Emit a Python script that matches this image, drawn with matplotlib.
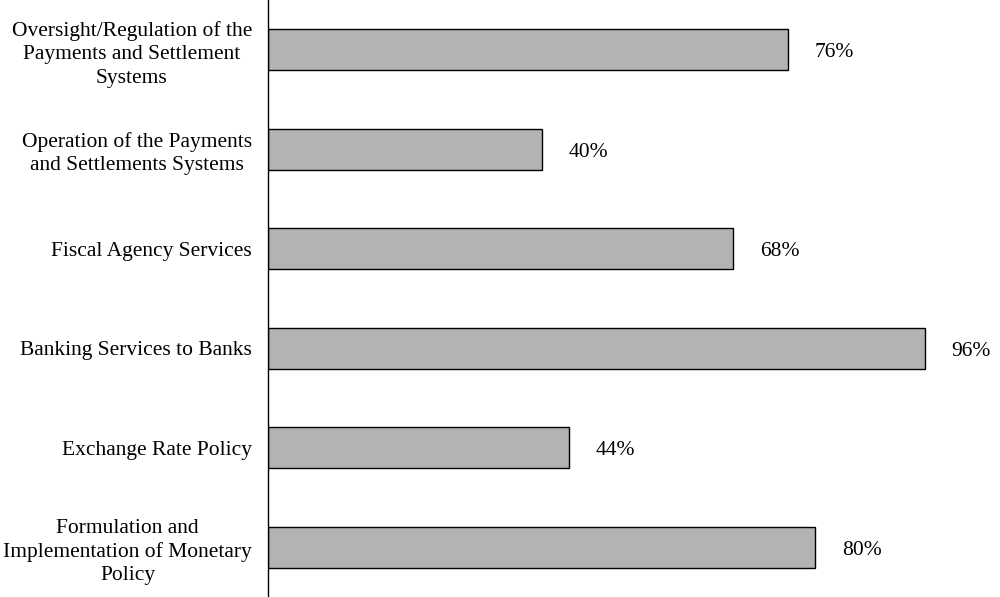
import matplotlib.pyplot as plt

# Data (top to bottom as in the chart)
categories = [
    "Oversight/Regulation of the\nPayments and Settlement\nSystems",
    "Operation of the Payments\nand Settlements Systems",
    "Fiscal Agency Services",
    "Banking Services to Banks",
    "Exchange Rate Policy",
    "Formulation and\nImplementation of Monetary\nPolicy",
]
values = [76, 40, 68, 96, 44, 80]

plt.rcParams['font.family'] = ['Liberation Serif', 'DejaVu Serif']

fig = plt.figure(figsize=(10, 5.97), dpi=100)
ax = fig.add_axes([0.268, 0.0, 0.732, 1.0])

pos = list(range(len(categories)))
ax.barh(pos, values, height=0.41, color='#b3b3b3', edgecolor='black', linewidth=1)

for p, v in zip(pos, values):
    ax.text(v + 3.9, p + 0.03, f"{v}%", va='center', ha='left', fontsize=15.5)

ax.set_yticks(pos)
ax.set_yticklabels(categories, fontsize=15.5, multialignment='center', linespacing=1.3)
ax.tick_params(axis='y', length=0, pad=11.5)
ax.set_ylim(len(categories) - 0.5, -0.5)
ax.set_xlim(0, 107)
ax.set_xticks([])

for s in ['top', 'right', 'bottom']:
    ax.spines[s].set_visible(False)
ax.spines['left'].set_linewidth(1)

fig.savefig('out.png', dpi=100)
